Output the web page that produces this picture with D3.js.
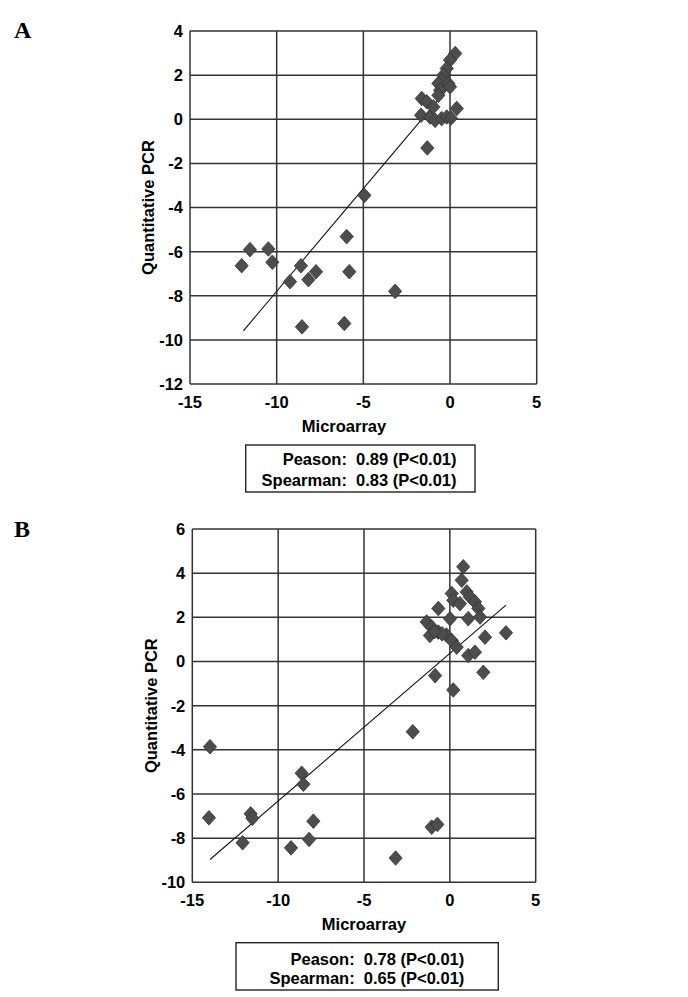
<!DOCTYPE html>
<html>
<head>
<meta charset="utf-8">
<script src="https://cdn.jsdelivr.net/npm/d3@7"></script>
<style>
  body { margin: 0; background: #fff; }
  svg text { font-family: "Liberation Sans", Arial, sans-serif; fill: #000; }
  .tick-label { font-family: "Liberation Sans Narrow", "Arial Narrow", "Liberation Sans", sans-serif; font-weight: bold; font-size: 16.5px; }
</style>
</head>
<body>
<div id="chart"></div>
<script>
// Panel A: microarray vs qPCR (log ratios)
const microA = [0.3, 0.0, -0.19, -0.38, -0.48, -0.67, -0.1, -0.57, 0.0, -0.67,
  -1.63, -1.34, 0.39, -1.67, -1.15, -0.86, -0.48, -0.19, -0.96, 0.05,
  -1.31, -4.94, -5.96, -11.54, -10.48, -12.02, -10.25, -8.6, -9.23, -8.17,
  -7.73, -5.81, -3.17, -8.54, -6.1];
const pcrA = [2.98, 2.68, 2.3, 2.0, 1.77, 1.62, 1.62, 1.32, 1.47, 1.09,
  0.94, 0.79, 0.49, 0.18, 0.1, -0.05, 0.03, 0.1, 0.56, 0.05,
  -1.3, -3.45, -5.32, -5.91, -5.88, -6.64, -6.48, -6.64, -7.36, -7.27,
  -6.91, -6.91, -7.8, -9.41, -9.26];

// Panel B
const microB = [0.78, 0.69, 0.11, 0.2, 0.98, 1.17, 0.59, 1.46, 1.66, 1.76,
  -0.67, 0.01, 1.07, -1.35, -1.06, -0.67, -0.2, -1.16, 0.11, 0.4,
  2.05, 3.27, 1.07, 1.46, 1.95, -0.86, 0.2, -0.45, -0.9,
  -2.16, -13.97, -8.63, -8.53, -14.03, -11.6, -11.5, -12.07, -9.25, -8.2,
  -7.95, -3.16, -1.06, -0.73];
const pcrB = [4.29, 3.68, 3.08, 2.77, 3.15, 2.92, 2.62, 2.7, 2.4, 2.01,
  2.4, 1.94, 1.94, 1.79, 1.56, 1.33, 1.2, 1.18, 0.95, 0.65,
  1.1, 1.3, 0.27, 0.42, -0.49, -0.64, -1.29, 1.25, 1.35,
  -3.18, -3.86, -5.06, -5.56, -7.08, -6.9, -7.1, -8.21, -8.44, -8.06,
  -7.23, -8.9, -7.5, -7.38];

// linear trend lines: [slope, intercept], and x extent
const trendA = [0.932, 1.52];
const trendExtentA = [-11.92, 0.14];
const trendB = [0.668, 0.365];
const trendExtentB = [-13.97, 3.27];

const xTicks = [-15, -10, -5, 0, 5];
const yTicksA = [-12, -10, -8, -6, -4, -2, 0, 2, 4];
const yTicksB = [-10, -8, -6, -4, -2, 0, 2, 4, 6];

const statsA = ["Peason:  0.89 (P<0.01)", "Spearman:  0.83 (P<0.01)"];
const statsB = ["Peason:  0.78 (P<0.01)", "Spearman:  0.65 (P<0.01)"];

const width = 688, height = 997;
const svg = d3.select('#chart').append('svg')
  .attr('width', width)
  .attr('height', height)
  .attr('viewBox', [0, 0, width, height]);

const diamond = {
  draw(ctx, size) {
    const r = Math.sqrt(size / 2);
    ctx.moveTo(0, -r * 1.1);
    ctx.lineTo(r, 0);
    ctx.lineTo(0, r * 1.1);
    ctx.lineTo(-r, 0);
    ctx.closePath();
  }
};

function drawPanel(p) {
  const g = svg.append('g');
  const x = d3.scaleLinear().domain([-15, 5]).range(p.xRange);
  const y = d3.scaleLinear().domain(d3.extent(p.yTicks)).range(p.yRange);

  // panel letter
  g.append('text')
    .attr('x', 14).attr('y', p.letterY)
    .style('font-family', '"Liberation Serif", "Times New Roman", serif')
    .style('font-weight', 'bold').style('font-size', '24px')
    .text(p.letter);

  // grid
  g.selectAll('.vgrid').data(xTicks).join('line')
    .attr('x1', d => x(d)).attr('x2', d => x(d))
    .attr('y1', p.yRange[0]).attr('y2', p.yRange[1])
    .attr('stroke', '#333').attr('stroke-width', 1.5);
  g.selectAll('.hgrid').data(p.yTicks).join('line')
    .attr('x1', p.xRange[0]).attr('x2', p.xRange[1])
    .attr('y1', d => y(d)).attr('y2', d => y(d))
    .attr('stroke', '#333').attr('stroke-width', 1.5);

  // tick labels
  g.selectAll('.xt').data(xTicks).join('text')
    .attr('class', 'tick-label')
    .attr('x', d => x(d)).attr('y', p.yRange[0] + 24)
    .attr('text-anchor', 'middle')
    .text(d => d);
  g.selectAll('.yt').data(p.yTicks).join('text')
    .attr('class', 'tick-label')
    .attr('x', p.xRange[0] - 7).attr('y', d => y(d))
    .attr('dy', '0.36em')
    .attr('text-anchor', 'end')
    .text(d => d);

  // axis titles
  g.append('text')
    .attr('transform', `translate(${p.yLabelX},${(p.yRange[0] + p.yRange[1]) / 2}) rotate(-90)`)
    .attr('text-anchor', 'middle').attr('dy', '0.35em')
    .style('font-weight', 'bold').style('font-size', '16.5px')
    .text('Quantitative PCR');
  g.append('text')
    .attr('x', p.xLabelX).attr('y', p.yRange[0] + 48)
    .attr('text-anchor', 'middle')
    .style('font-weight', 'bold').style('font-size', '16.5px')
    .text('Microarray');

  // trend line
  const line = d3.line().x(d => x(d)).y(d => y(p.trend[0] * d + p.trend[1]));
  g.append('path')
    .attr('d', line(p.trendExtent))
    .attr('fill', 'none').attr('stroke', '#111').attr('stroke-width', 1.1);

  // points
  const pts = p.micro.map((m, i) => [m, p.pcr[i]]);
  g.selectAll('.pt').data(pts).join('path')
    .attr('d', d3.symbol().type(diamond).size(88))
    .attr('transform', d => `translate(${x(d[0])},${y(d[1])})`)
    .attr('fill', '#4d4d4d')
    .attr('stroke', '#333').attr('stroke-width', 0.8);

  // stats box
  const b = p.box;
  g.append('rect')
    .attr('x', b[0]).attr('y', b[1]).attr('width', b[2]).attr('height', b[3])
    .attr('fill', '#fff').attr('stroke', '#222').attr('stroke-width', 1.4);
  g.selectAll('.st').data(p.stats).join('text')
    .attr('x', p.statsRight)
    .attr('y', (d, i) => p.statsY[i])
    .attr('text-anchor', 'end')
    .attr('xml:space', 'preserve')
    .style('white-space', 'pre')
    .style('font-weight', 'bold').style('font-size', '16.5px')
    .text(d => d);
}

drawPanel({
  letter: 'A', letterY: 38,
  micro: microA, pcr: pcrA, trend: trendA, trendExtent: trendExtentA,
  yTicks: yTicksA, xRange: [190, 536.7], yRange: [384, 31],
  yLabelX: 148, xLabelX: 344,
  box: [245.7, 445, 229.3, 47], stats: statsA, statsRight: 456.5, statsY: [465, 486]
});

drawPanel({
  letter: 'B', letterY: 537,
  micro: microB, pcr: pcrB, trend: trendB, trendExtent: trendExtentB,
  yTicks: yTicksB, xRange: [192.3, 535.7], yRange: [882.3, 529],
  yLabelX: 151.5, xLabelX: 364,
  box: [236, 942.7, 262.3, 47.3], stats: statsB, statsRight: 464.3, statsY: [965, 983.5]
});
</script>
</body>
</html>
